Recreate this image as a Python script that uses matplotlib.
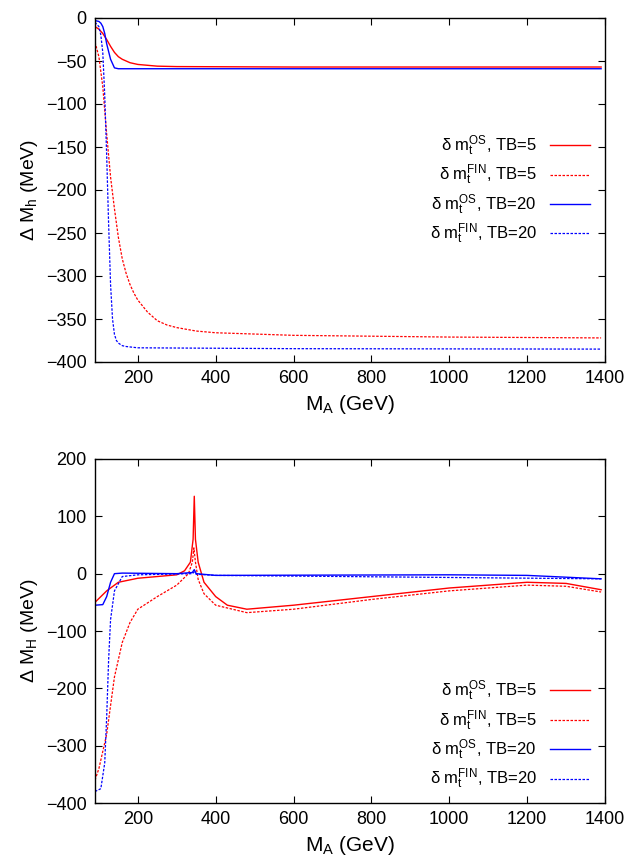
import matplotlib
matplotlib.use("Agg")
import matplotlib.pyplot as plt

plt.rcParams['font.family'] = ['Liberation Sans', 'DejaVu Sans']
plt.rcParams['mathtext.fontset'] = 'custom'
plt.rcParams['mathtext.rm'] = 'Liberation Sans'
plt.rcParams['mathtext.it'] = 'Liberation Sans'

# Top panel: Delta M_h
h_os5_x = [90, 100, 110, 120, 130, 140, 150, 160, 180, 200, 250, 300, 600, 1000, 1390]
h_os5_y = [-10, -13, -18, -25, -33, -40, -45, -48, -52, -54, -56, -56.5, -57, -57, -57]
h_fin5_x = [90, 100, 110, 120, 130, 140, 150, 160, 170, 180, 190, 200, 225, 250, 275, 300, 350, 400, 600, 1000, 1390]
h_fin5_y = [-28, -45, -80, -135, -185, -222, -255, -280, -297, -310, -320, -328, -342, -352, -357, -360, -364, -366, -369, -371, -372]
h_os20_x = [90, 100, 105, 110, 115, 120, 130, 140, 150, 600, 1390]
h_os20_y = [-3, -4, -6, -10, -18, -30, -48, -58, -59, -59, -59]
h_fin20_x = [90, 100, 105, 110, 115, 120, 125, 130, 135, 140, 145, 150, 160, 170, 200, 600, 1390]
h_fin20_y = [-5, -10, -20, -40, -90, -160, -240, -310, -350, -368, -375, -378, -381, -382, -383.5, -384.5, -385]

# Bottom panel: Delta M_H
H_os5_x = [90, 120, 150, 200, 300, 320, 335, 342, 345, 348, 355, 370, 400, 430, 480, 600, 800, 1000, 1200, 1300, 1390]
H_os5_y = [-50, -30, -15, -8, -2, 5, 20, 60, 135, 60, 20, -15, -40, -55, -62, -55, -40, -25, -15, -17, -28]
H_fin5_x = [90, 100, 120, 140, 160, 180, 200, 250, 300, 330, 340, 344, 348, 355, 370, 400, 480, 600, 800, 1000, 1200, 1300, 1390]
H_fin5_y = [-360, -340, -280, -180, -120, -85, -62, -40, -20, 0, 20, 45, 20, -10, -35, -55, -68, -62, -45, -30, -20, -22, -32]
H_os20_x = [90, 110, 120, 130, 140, 160, 300, 340, 345, 350, 400, 1000, 1200, 1390]
H_os20_y = [-55, -54, -40, -15, 0, 1, 0, 2, 7, 0, -3, -2, -3, -9]
H_fin20_x = [90, 105, 115, 120, 125, 130, 140, 160, 200, 340, 345, 350, 400, 1390]
H_fin20_y = [-380, -375, -330, -250, -150, -80, -30, -5, -2, 0, 3, -1, -3, -9]

labels = [r'$\delta$ m$_t^{\rm OS}$, TB=5', r'$\delta$ m$_t^{\rm FIN}$, TB=5',
          r'$\delta$ m$_t^{\rm OS}$, TB=20', r'$\delta$ m$_t^{\rm FIN}$, TB=20']
xticks = [200, 400, 600, 800, 1000, 1200, 1400]

fig = plt.figure(figsize=(6.27, 8.66), dpi=100)
W, H = 627, 866
ax1 = fig.add_axes([95/W, 1-362/H, 510/W, 344/H])
ax2 = fig.add_axes([95/W, 1-803/H, 510/W, 344/H])

dash = (0, (2, 1.2))
for ax, data, ylim, yticks, ylab, loc, anchor in [
    (ax1, [(h_os5_x, h_os5_y), (h_fin5_x, h_fin5_y), (h_os20_x, h_os20_y), (h_fin20_x, h_fin20_y)],
     (-400, 0), list(range(-400, 1, 50)), r'$\Delta$ M$_{\rm h}$ (MeV)', 'center right', (1.0, 0.50)),
    (ax2, [(H_os5_x, H_os5_y), (H_fin5_x, H_fin5_y), (H_os20_x, H_os20_y), (H_fin20_x, H_fin20_y)],
     (-400, 200), list(range(-400, 201, 100)), r'$\Delta$ M$_{\rm H}$ (MeV)', 'lower right', (1.0, -0.01))]:
    styles = [('red', '-', 1.0), ('red', dash, 0.9), ('blue', '-', 1.0), ('blue', dash, 0.9)]
    for (x, y), (c, ls, lw), lab in zip(data, styles, labels):
        ax.plot(x, y, color=c, linestyle=ls, linewidth=lw, label=lab)
    ax.set_xlim(90, 1400)
    ax.set_ylim(*ylim)
    ax.set_xticks(xticks)
    ax.set_yticks(yticks)
    ax.tick_params(direction='in', top=True, right=True, labelsize=13, length=5, pad=6)
    for s in ax.spines.values():
        s.set_linewidth(1.0)
    ax.set_xlabel(r'M$_{\rm A}$ (GeV)', fontsize=15)
    ax.set_ylabel(ylab, fontsize=14)
    ax.legend(loc=loc, bbox_to_anchor=anchor, frameon=False, markerfirst=False,
              fontsize=12, handlelength=2.4, labelspacing=0.3)

fig.savefig('out.png', dpi=100)
